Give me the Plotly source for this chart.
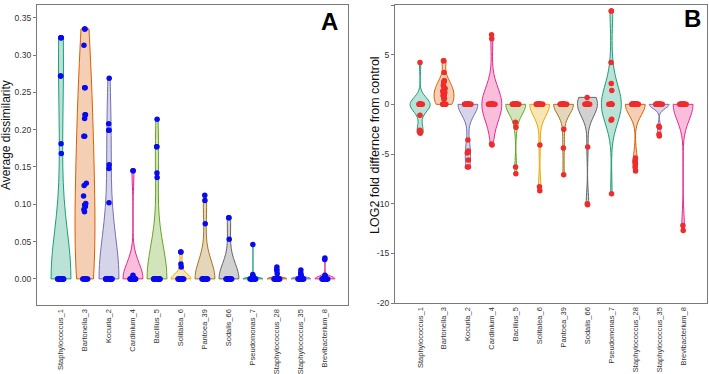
import plotly.graph_objects as go

categories = ["Staphylococcus_1", "Bartonella_3", "Kocuria_2", "Cardinium_4", "Bacillus_5",
              "Solitalea_6", "Pantoea_39", "Sodalis_66", "Pseudomonas_7",
              "Staphylococcus_28", "Staphylococcus_35", "Brevibacterium_8"]

# ---------- Panel A: average dissimilarity ----------
a_staphylococcus_1 = [0.323, 0.323, 0.323, 0.272, 0.272, 0.181, 0.168,
                      0, 0, 0, 0, 0, 0, 0, 0, 0, 0, 0, 0, 0, 0, 0, 0, 0, 0, 0, 0]
a_bartonella_3 = [0.335, 0.335, 0.313, 0.256, 0.256, 0.220, 0.220, 0.215, 0.191, 0.191,
                  0.128, 0.125, 0.111, 0.101, 0.099, 0.097, 0.093, 0.090,
                  0, 0, 0, 0, 0, 0, 0, 0]
a_kocuria_2 = [0.269, 0.208, 0.199, 0.199, 0.153, 0.148, 0.102,
               0, 0, 0, 0, 0, 0, 0, 0, 0, 0, 0, 0, 0, 0, 0, 0, 0, 0, 0, 0, 0, 0, 0, 0]
a_cardinium_4 = [0.145, 0.145, 0.005, 0.003,
                 0, 0, 0, 0, 0, 0, 0, 0, 0, 0, 0, 0, 0, 0, 0, 0, 0, 0]
a_bacillus_5 = [0.214, 0.177, 0.177, 0.142, 0.136,
                0, 0, 0, 0, 0, 0, 0, 0, 0, 0, 0, 0, 0, 0, 0, 0, 0, 0, 0, 0, 0, 0, 0, 0, 0, 0]
a_solitalea_6 = [0.036, 0.036, 0.020, 0.016,
                 0, 0, 0, 0, 0, 0, 0, 0, 0, 0, 0, 0, 0, 0, 0]
a_pantoea_39 = [0.112, 0.105, 0.074,
                0, 0, 0, 0, 0, 0, 0, 0, 0, 0, 0, 0, 0, 0, 0]
a_sodalis_66 = [0.082, 0.082, 0.053,
                0, 0, 0, 0, 0, 0, 0, 0, 0, 0, 0, 0, 0, 0, 0]
a_pseudomonas_7 = [0.046, 0.006, 0.004, 0.003, 0.002,
                   0, 0, 0, 0, 0, 0, 0, 0, 0, 0, 0, 0, 0, 0]
a_staphylococcus_28 = [0.016, 0.013, 0.011, 0.007,
                       0, 0, 0, 0, 0, 0, 0, 0, 0, 0, 0, 0, 0, 0, 0]
a_staphylococcus_35 = [0.012, 0.008, 0.006, 0.004,
                       0, 0, 0, 0, 0, 0, 0, 0, 0, 0, 0, 0, 0, 0, 0]
a_brevibacterium_8 = [0.028, 0.026, 0.005, 0.004,
                      0, 0, 0, 0, 0, 0, 0, 0, 0, 0, 0, 0, 0, 0, 0]

# ---------- Panel B: LOG2 fold difference from control ----------
b_staphylococcus_1 = [4.2, -1.1, -2.6, -2.7, -2.8, -2.9,
                      0, 0, 0, 0, 0, 0, 0, 0, 0, 0, 0, 0, 0]
b_bartonella_3 = [4.4, 4.4, 3.2, 2.4, 2.3, 2.2, 1.9, 1.8, 1.6, 1.4, 1.3, 1.2,
                  1.1, 1.0, 0.9, 0.8, 0.6, 0.5, 0, 0, 0, 0, 0, 0]
b_kocuria_2 = [-3.6, -4.7, -4.8, -4.9, -5.6, -6.3, -6.3,
               0, 0, 0, 0, 0, 0, 0, 0, 0, 0, 0, 0, 0, 0, 0, 0, 0, 0, 0, 0]
b_cardinium_4 = [7.0, 6.6, -4.0, -4.1,
                 0, 0, 0, 0, 0, 0, 0, 0, 0, 0, 0, 0, 0, 0, 0, 0, 0, 0, 0, 0]
b_bacillus_5 = [-1.8, -2.3, -6.3, -7.0,
                0, 0, 0, 0, 0, 0, 0, 0, 0, 0, 0, 0, 0, 0, 0, 0, 0, 0]
b_solitalea_6 = [-4.1, -8.3, -8.7,
                 0, 0, 0, 0, 0, 0, 0, 0, 0, 0, 0, 0, 0, 0, 0]
b_pantoea_39 = [-2.5, -4.4, -7.1,
                0, 0, 0, 0, 0, 0, 0, 0, 0, 0, 0, 0, 0, 0, 0]
b_sodalis_66 = [0.7, -4.3, -10.0, -10.1,
                0, 0, 0, 0, 0, 0, 0, 0, 0, 0, 0, 0, 0, 0, 0]
b_pseudomonas_7 = [9.4, 9.4, 4.2, 2.1, 1.4, -1.5, -1.6, -9.0,
                   0, 0, 0, 0, 0, 0, 0, 0, 0, 0, 0, 0]
b_staphylococcus_28 = [-5.4, -5.6, -5.8, -6.0, -6.3, -6.7,
                       0, 0, 0, 0, 0, 0, 0, 0, 0, 0, 0, 0, 0, 0, 0, 0, 0, 0,
                       0, 0, 0, 0, 0, 0, 0, 0]
b_staphylococcus_35 = [-2.2, -2.3, -3.0, -3.2,
                       0, 0, 0, 0, 0, 0, 0, 0, 0, 0, 0, 0, 0, 0, 0]
b_brevibacterium_8 = [-12.2, -12.7,
                      0, 0, 0, 0, 0, 0, 0, 0, 0, 0, 0, 0, 0, 0, 0]

a_series = [a_staphylococcus_1, a_bartonella_3, a_kocuria_2, a_cardinium_4, a_bacillus_5,
            a_solitalea_6, a_pantoea_39, a_sodalis_66, a_pseudomonas_7,
            a_staphylococcus_28, a_staphylococcus_35, a_brevibacterium_8]
b_series = [b_staphylococcus_1, b_bartonella_3, b_kocuria_2, b_cardinium_4, b_bacillus_5,
            b_solitalea_6, b_pantoea_39, b_sodalis_66, b_pseudomonas_7,
            b_staphylococcus_28, b_staphylococcus_35, b_brevibacterium_8]

a_tickvals = [0.00, 0.05, 0.10, 0.15, 0.20, 0.25, 0.30, 0.35]
a_ticktext = ["0.00", "0.05", "0.10", "0.15", "0.20", "0.25", "0.30", "0.35"]
b_tickvals = [-20, -15, -10, -5, 0, 5, 10]
b_ticktext = ["-20", "-15", "-10", "-5", "0", "5", "10"]

# ---------- styling ----------
# kernel bandwidths (smoothing of each violin outline)
a_bandwidth = [0.065, 0.07, 0.058, 0.021, 0.045, 0.0065, 0.025, 0.021, 0.0015, 0.002, 0.002, 0.003]
b_bandwidth = [0.7, 0.6, 1.1, 1.7, 1.0, 1.2, 1.0, 1.25, 1.8, 1.1, 0.43, 1.6]

dark2 = ["#1B9E77", "#D95F02", "#7570B3", "#E7298A", "#66A61E", "#E6AB02", "#A6761D", "#666666"]
colors = [dark2[i % 8] for i in range(len(categories))]


def rgba(hexc, a):
    h = hexc.lstrip("#")
    return "rgba(%d,%d,%d,%.2f)" % (int(h[0:2], 16), int(h[2:4], 16), int(h[4:6], 16), a)


fig = go.Figure()

for series, bws, xa, ya, ptcol in [(a_series, a_bandwidth, "x", "y", "#0A0AEE"),
                                   (b_series, b_bandwidth, "x2", "y2", "#F02B2B")]:
    for cat, vals, col, bw in zip(categories, series, colors, bws):
        fig.add_trace(go.Violin(
            x=[cat] * len(vals), y=vals, xaxis=xa, yaxis=ya,
            line=dict(color=col, width=1), fillcolor=rgba(col, 0.3),
            points="all", pointpos=0, jitter=0.35,
            marker=dict(color=ptcol, size=5.5, line=dict(width=0)),
            spanmode="hard", scalemode="width", width=0.83,
            bandwidth=bw, showlegend=False, hoverinfo="skip",
        ))

W, H = 709, 374
frame = dict(showline=True, mirror=True, linecolor="#7a7a7a", linewidth=1.3,
             showgrid=False, zeroline=False)
xcommon = dict(type="category", categoryorder="array", categoryarray=categories,
               tickangle=-90, ticks="", tickfont=dict(family="Liberation Sans", size=7.5, color="#333"),
               automargin=False, **frame)
ycommon = dict(ticks="outside", ticklen=3, tickwidth=1, tickcolor="#7a7a7a",
               tickfont=dict(family="Liberation Sans", size=8.5, color="#333"),
               automargin=False, **frame)

fig.update_layout(
    width=W, height=H,
    margin=dict(l=0, r=0, t=0, b=0),
    paper_bgcolor="white", plot_bgcolor="white",
    violinmode="overlay",
    xaxis=dict(domain=[37 / W, 348 / W], range=[-1.0, 11.96], anchor="y", **xcommon),
    yaxis=dict(domain=[1 - 305 / H, 1 - 5 / H], range=[-0.035, 0.367], anchor="x",
               tickvals=a_tickvals, ticktext=a_ticktext, **ycommon),
    xaxis2=dict(domain=[395 / W, 707 / W], range=[-1.05, 12.0], anchor="y2", **xcommon),
    yaxis2=dict(domain=[1 - 303 / H, 1 - 5 / H], range=[-20, 10], anchor="x2",
                tickvals=b_tickvals, ticktext=b_ticktext, **ycommon),
    annotations=[
        dict(text="Average dissimilarity", x=6 / W, y=1 - 135 / H, xref="paper", yref="paper",
             textangle=-90, showarrow=False, xanchor="center", yanchor="middle",
             font=dict(family="Liberation Sans", size=12, color="#111")),
        dict(text="LOG2 fold differnce from control", x=375 / W, y=1 - 145 / H, xref="paper", yref="paper",
             textangle=-90, showarrow=False, xanchor="center", yanchor="middle",
             font=dict(family="Liberation Sans", size=12.5, color="#111")),
        dict(text="<b>A</b>", x=329 / W, y=1 - 21.5 / H, xref="paper", yref="paper",
             showarrow=False, xanchor="center", yanchor="middle",
             font=dict(family="Liberation Sans", size=24, color="#000")),
        dict(text="<b>B</b>", x=692 / W, y=1 - 18.5 / H, xref="paper", yref="paper",
             showarrow=False, xanchor="center", yanchor="middle",
             font=dict(family="Liberation Sans", size=24, color="#000")),
    ],
)

fig.write_html("out.html")
